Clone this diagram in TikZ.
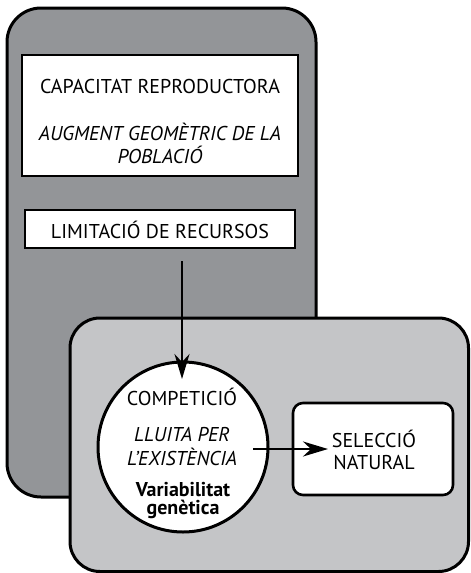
\documentclass[tikz,border=0pt]{standalone}
\usepackage{fontspec}
\setmainfont{PT Sans}
\usetikzlibrary{arrows.meta,calc}
\definecolor{darkbox}{RGB}{147,149,152}
\definecolor{lightbox}{RGB}{196,197,199}
\begin{document}
\begin{tikzpicture}[x=1pt,y=-1pt,
  panel/.style={draw=black,line width=3pt},
  whitebox/.style={draw=black,fill=white,line width=2.2pt,inner sep=0pt},
  txt/.style={inner sep=0pt,font=\fontsize{20}{24}\selectfont},
  conn/.style={line width=2.2pt,-{Stealth[length=25pt,width=15pt,inset=8pt]}}]
\useasboundingbox (0,0) rectangle (471,573);
% dark panel
\draw[panel,fill=darkbox,rounded corners=34pt] (7,8) rectangle (316,497);
% top white box
\node[whitebox,minimum width=276pt,minimum height=121pt] (cap) at (160,115.5) {};
\node[txt] (t1) at (160,86) {CAPACITAT REPRODUCTORA};
\node[txt] (t2) at (160,132) {\itshape AUGMENT GEOMÈTRIC DE LA};
\node[txt] (t3) at (160,155) {\itshape POBLACIÓ};
% limitation box
\node[whitebox,minimum width=270pt,minimum height=38pt] (lim) at (160,229) {};
\node[txt] (t4) at (160,230) {LIMITACIÓ DE RECURSOS};
% light panel
\draw[panel,fill=lightbox,rounded corners=30pt] (70,318) rectangle (468.5,571.5);
% circle
\node[draw=black,fill=white,line width=3pt,circle,minimum size=170pt,inner sep=0pt] (circ) at (183,447) {};
\node[txt] (c1) at (182,397) {COMPETICIÓ};
\node[txt] (c2) at (182,434) {\itshape LLUITA PER};
\node[txt] (c3) at (182,457) {\itshape L’EXISTÈNCIA};
\node[txt,align=center,font=\fontsize{20}{18}\selectfont\bfseries] (c4) at (183,501) {Variabilitat\\genètica};
% selection box
\node[draw=black,fill=white,line width=2.6pt,rounded corners=10pt,minimum width=160pt,minimum height=92pt,inner sep=0pt] (sel) at (373,449) {};
\node[txt] (s1) at (374,439) {SELECCIÓ};
\node[txt] (s2) at (374,462) {NATURAL};
% connectors
\coordinate (a0) at (182,261);
\coordinate (a1) at (182,379);
\draw[conn] (a0) -- (a1);
\coordinate (b0) at (253,449);
\coordinate (b1) at (328,449);
\draw[conn] (b0) -- (b1);
\end{tikzpicture}
\end{document}
